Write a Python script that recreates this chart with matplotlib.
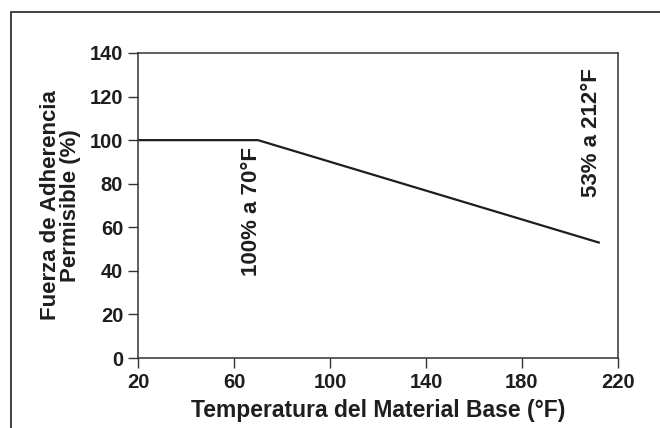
import matplotlib
matplotlib.use("Agg")
import matplotlib.pyplot as plt
from matplotlib.patches import Rectangle

# Allowable bond strength vs. base material temperature
temps_f = [20, 70, 212]
strength_pct = [100, 100, 53]

x_ticks = [20, 60, 100, 140, 180, 220]
y_ticks = [0, 20, 40, 60, 80, 100, 120, 140]

x_label = "Temperatura del Material Base (°F)"
y_label = "Fuerza de Adherencia\nPermisible (%)"

ink = "#1e1e1e"
plt.rcParams["font.family"] = ["Liberation Sans", "DejaVu Sans"]
plt.rcParams["font.weight"] = "bold"

fig = plt.figure(figsize=(6.6, 4.28), dpi=100)
fig.patch.set_facecolor("white")

# outer frame (runs off the right and bottom edges)
fig.add_artist(Rectangle((11 / 660, -0.05), 1.0, 1 - 12 / 428 + 0.05,
                         transform=fig.transFigure, fill=False,
                         edgecolor="#333333", linewidth=1.3))

ax = fig.add_axes([138 / 660, 1 - 358 / 428, 480 / 660, 305 / 428])
ax.plot(temps_f, strength_pct, color=ink, linewidth=1.6,
        solid_joinstyle="miter")

ax.set_xlim(x_ticks[0], x_ticks[-1])
ax.set_ylim(y_ticks[0], y_ticks[-1])
ax.set_xticks(x_ticks)
ax.set_yticks(y_ticks)

for s in ax.spines.values():
    s.set_color("#333333")
    s.set_linewidth(1.1)

ax.tick_params(direction="out", length=7.5, width=1.0, color="#333333",
               labelsize=14.5, labelcolor=ink, pad=3.2)
for lab in ax.get_xticklabels() + ax.get_yticklabels():
    lab.set_fontweight("bold")

ax.set_xlabel(x_label, fontsize=16.5, fontweight="bold", color=ink,
              labelpad=5.5)
ax.set_ylabel(y_label, fontsize=16, fontweight="bold", color=ink,
              labelpad=6, linespacing=0.95)

ax.text(0.237, 0.692,
        f"{strength_pct[1]}% a {temps_f[1]}°F",
        transform=ax.transAxes, rotation=90, ha="center", va="top",
        fontsize=16, fontweight="bold", color=ink)
ax.text(0.945, 0.951,
        f"{strength_pct[2]}% a {temps_f[2]}°F",
        transform=ax.transAxes, rotation=90, ha="center", va="top",
        fontsize=16, fontweight="bold", color=ink)

fig.savefig("out.png", dpi=100, facecolor="white")
